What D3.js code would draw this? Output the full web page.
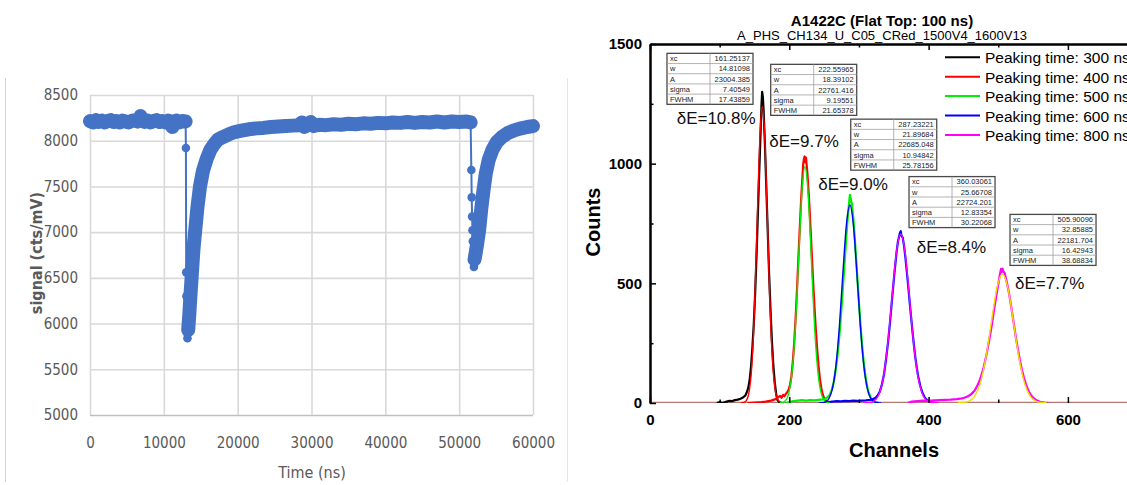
<!DOCTYPE html>
<html>
<head>
<meta charset="utf-8">
<script src="https://cdnjs.cloudflare.com/ajax/libs/d3/7.8.5/d3.min.js"></script>
<style>
	body { margin: 0; background: #fff; }
	svg { display: block; }
</style>
</head>
<body>
<div id="chart"></div>
<script>
// ---- left panel : preamp waveform (time ns, signal cts/mV) ----
var time_ticks = [0, 10000, 20000, 30000, 40000, 50000, 60000];
var signal_ticks = [5000, 5500, 6000, 6500, 7000, 7500, 8000, 8500];

var wave_flat = [[0,8215],[400,8200],[800,8225],[1200,8205],[1600,8220],[2000,8200],[2400,8215],[2800,8225],[3200,8205],[3600,8215],[4000,8200],[4400,8220],[4800,8210],[5200,8200],[5600,8215],[6000,8225],[6400,8210],[6700,8240],[6850,8270],[7000,8235],[7400,8205],[7800,8220],[8200,8200],[8600,8215],[9000,8225],[9400,8205],[9800,8215],[10200,8200],[10600,8220],[11000,8210],[11150,8150],[11300,8205],[11700,8220],[12100,8200],[12500,8215],[12950,8210]];
var wave_drop1 = [[12950,8210],[12990,7920],[13030,6560],[13060,6300],[13090,6010],[13130,5900],[13200,5840]];
var wave_rec1 = [[13300,5930],[13450,6100],[13600,6300],[13800,6550],[14000,6800],[14250,7020],[14550,7270],[14900,7500],[15300,7670],[15800,7800],[16300,7900],[16800,7960],[17300,8010],[18000,8040],[18800,8070],[19600,8095],[20500,8110],[21500,8125],[22500,8135],[23500,8140],[24500,8150],[25500,8155],[26500,8160],[27500,8165],[28300,8170],[28700,8200],[29000,8150],[29500,8175],[29900,8205],[30300,8160],[31000,8175],[32000,8170],[33000,8180],[34000,8175],[35000,8185],[36000,8180],[37000,8190],[38000,8185],[39000,8195],[40000,8190],[41000,8200],[42000,8195],[43000,8205],[44000,8195],[45000,8205],[46000,8200],[47000,8210],[48000,8200],[49000,8210],[50000,8205],[51000,8210],[51550,8200]];
var wave_drop2 = [[51550,8200],[51650,7680],[51700,7380],[51750,7170],[51800,7020],[51850,6900],[51950,6700],[52000,6620]];
var wave_rec2 = [[52080,6700],[52250,6780],[52450,6880],[52700,7020],[53000,7260],[53300,7460],[53600,7640],[54000,7790],[54500,7900],[55100,7985],[55800,8040],[56600,8085],[57500,8115],[58400,8135],[59200,8150],[60000,8160]];

// ---- right panel : pulse height spectra (channel, counts) ----
var channel_ticks = [0, 200, 400, 600];
var channel_minor = [100, 300, 500, 700];
var count_ticks = [0, 500, 1000, 1500];
var count_minor = [250, 750, 1250];

var legend_names = ["Peaking time: 300 ns", "Peaking time: 400 ns", "Peaking time: 500 ns", "Peaking time: 600 ns", "Peaking time: 800 ns"];

var spec_300 = [[96,0],[100,4],[104,0],[110,6],[114,9],[118,8],[122,12],[126,14],[130,18],[134,24],[137,32],[139,45],[141,62],[143,95],[145,150],[147,230],[149,330],[151,460],[153,620],[155,800],[157,980],[159,1150],[160,1240],[161,1300],[162,1280],[163,1230],[165,1080],[167,900],[169,720],[171,540],[173,390],[175,260],[177,160],[179,90],[181,40],[183,12],[186,2],[190,0]];
var spec_400 = [[140,0],[150,2],[160,4],[166,6],[170,8],[174,10],[178,14],[181,18],[184,24],[187,30],[189,22],[191,34],[193,28],[195,38],[197,45],[199,55],[201,75],[203,110],[205,170],[207,250],[209,350],[211,470],[213,600],[215,730],[217,850],[219,950],[220,1000],[221,1020],[222,1030],[223,1005],[224,1025],[226,960],[228,870],[230,760],[232,640],[234,520],[236,410],[238,310],[240,225],[242,155],[244,100],[246,62],[248,36],[250,20],[253,8],[257,2],[262,0]];
var spec_500 = [[196,0],[200,4],[206,8],[212,10],[218,12],[224,10],[230,12],[236,11],[242,13],[248,15],[252,18],[255,24],[258,34],[261,55],[264,90],[267,145],[270,220],[273,320],[276,440],[279,570],[282,700],[284,780],[286,840],[287,870],[288,855],[290,830],[292,770],[294,690],[296,600],[298,510],[300,420],[302,335],[304,260],[306,195],[308,140],[310,98],[312,66],[314,42],[317,22],[320,11],[324,4],[330,0]];
var spec_600 = [[250,0],[256,4],[262,6],[268,8],[274,7],[280,9],[286,8],[292,10],[298,9],[304,10],[310,11],[316,13],[320,16],[324,22],[327,32],[330,48],[333,78],[336,120],[339,185],[342,260],[345,350],[348,450],[351,545],[354,630],[356,675],[358,700],[359,712],[360,718],[361,700],[363,690],[365,650],[367,600],[369,540],[371,480],[373,415],[375,355],[377,295],[379,240],[381,190],[383,148],[385,112],[388,72],[391,44],[394,26],[397,14],[400,7],[404,3],[410,0]];
var spec_800 = [[370,0],[376,6],[384,8],[392,10],[400,9],[408,11],[416,12],[424,13],[432,14],[440,16],[446,18],[451,22],[455,26],[459,32],[463,42],[467,56],[471,78],[475,108],[479,148],[483,200],[487,262],[491,330],[494,390],[497,445],[500,495],[502,530],[503,545],[504,560],[505,548],[506,562],[507,550],[509,545],[511,520],[513,495],[516,450],[519,395],[522,338],[525,280],[528,228],[531,180],[534,138],[537,104],[540,76],[543,54],[546,37],[550,22],[555,11],[560,5],[566,2],[572,0]];

// gaussian fits
var fit_1 = [[130,0],[134,2],[138,9],[142,42],[146,149],[150,391],[154,767],[158,1125],[161,1239],[164,1156],[168,818],[172,432],[176,170],[180,50],[184,11],[188,2],[192,0]];
var fit_2 = [[186.5,0],[190.5,2],[194.5,10],[198.5,33],[202.5,93],[206.5,217],[210.5,421],[214.5,676],[218.5,898],[222.5,987],[226.5,898],[230.5,676],[234.5,421],[238.5,217],[242.5,93],[246.5,33],[250.5,10],[254.5,2],[258.5,0]];
var fit_3 = [[242,0],[247,1],[252,5],[257,19],[262,61],[267,156],[272,324],[277,545],[282,745],[287,827],[292,745],[297,545],[302,324],[307,156],[312,61],[317,19],[322,5],[327,1],[332,0]];
var fit_4 = [[306,0],[312,1],[318,3],[324,14],[330,46],[336,123],[342,264],[348,456],[354,633],[360,706],[366,633],[372,456],[378,264],[384,123],[390,46],[396,14],[402,3],[408,1],[414,0]];
var fit_5 = [[442,0],[450,2],[458,8],[466,28],[474,81],[482,185],[490,335],[498,479],[506,539],[514,479],[522,335],[530,185],[538,81],[546,28],[554,8],[562,2],[570,0]];

var fit_labels = ["xc", "w", "A", "sigma", "FWHM"];
var fit_params = [
	["161.25137", "14.81098", "23004.385", "7.40549", "17.43859"],
	["222.55965", "18.39102", "22761.416", "9.19551", "21.65378"],
	["287.23221", "21.89684", "22685.048", "10.94842", "25.78156"],
	["360.03061", "25.66708", "22724.201", "12.83354", "30.22068"],
	["505.90096", "32.85885", "22181.704", "16.42943", "38.68834"]
];
var resolution = ["\u03b4E=10.8%", "\u03b4E=9.7%", "\u03b4E=9.0%", "\u03b4E=8.4%", "\u03b4E=7.7%"];

// where the boxes and labels sit, in channel / counts
var table_at = [[24.4, 1461], [173.3, 1415], [288.2, 1186], [371.9, 946], [516.9, 788]];
var label_at = [[38.3, 1166], [171.3, 1071], [241.6, 890], [382.9, 628], [524, 476]];

var spec_colors = ["#000000", "#ff0000", "#00ee00", "#0000ff", "#ff00ff"];
var fit_colors = ["#ff0000", "#00ee00", "#0000ff", "#ff00ff", "#f2dc00"];

window.onload = function() {
	main();
};

function main() {
	var svg = d3.select("#chart")
		.append("svg")
		.attr("width", 1127)
		.attr("height", 485);
	draw_waveform(svg);
	draw_spectra(svg);
}

function draw_waveform(svg) {
	var x = d3.scaleLinear().domain([0, 60000]).range([90, 533]);
	var y = d3.scaleLinear().domain([5000, 8500]).range([415, 95]);
	var font = "'Liberation Sans Narrow','DejaVu Sans Condensed','Liberation Sans',sans-serif";
	var blue = "#4472c4";

	// edges of the pasted screenshot
	svg.append("line")
		.attr("x1", 5.5).attr("x2", 5.5)
		.attr("y1", 78).attr("y2", 482)
		.attr("stroke", "#d4d4d4");
	svg.append("line")
		.attr("x1", 567.5).attr("x2", 567.5)
		.attr("y1", 78).attr("y2", 482)
		.attr("stroke", "#e4e4e4");

	var gy = svg.append("g")
		.attr("transform", "translate(90,0)")
		.call(d3.axisLeft(y).tickValues(signal_ticks).tickSize(-443).tickPadding(12).tickFormat(d3.format("d")));
	gy.select(".domain").remove();
	gy.selectAll(".tick line")
		.attr("stroke", function(d) { return d == 5000 ? "#bfbfbf" : "#d9d9d9"; })
		.attr("stroke-width", 1.6);
	gy.selectAll(".tick text")
		.attr("fill", "#595959")
		.style("font-family", font)
		.style("font-size", "15px");

	var gx = svg.append("g")
		.attr("transform", "translate(0,415)")
		.call(d3.axisBottom(x).tickValues(time_ticks).tickSize(-320).tickPadding(22).tickFormat(d3.format("d")));
	gx.select(".domain").remove();
	gx.selectAll(".tick line")
		.attr("stroke", "#d9d9d9")
		.attr("stroke-width", 1.6);
	gx.selectAll(".tick text")
		.attr("fill", "#595959")
		.style("font-family", font)
		.style("font-size", "15px");

	svg.append("text")
		.attr("x", 312)
		.attr("y", 478)
		.attr("text-anchor", "middle")
		.attr("fill", "#595959")
		.style("font-family", font)
		.style("font-size", "16px")
		.text("Time (ns)");

	svg.append("text")
		.attr("transform", "translate(42,253) rotate(-90)")
		.attr("text-anchor", "middle")
		.attr("fill", "#595959")
		.style("font-family", font)
		.style("font-size", "16px")
		.style("font-weight", "bold")
		.text("signal (cts/mV)");

	var line = d3.line()
		.x(function(d) { return x(d[0]); })
		.y(function(d) { return y(d[1]); });

	// dense parts look like a thick band of overlapping markers
	[wave_flat, wave_rec1, wave_rec2].forEach(function(seg) {
		svg.append("path")
			.datum(seg)
			.attr("d", line)
			.attr("fill", "none")
			.attr("stroke", blue)
			.attr("stroke-width", 14)
			.attr("stroke-linejoin", "round")
			.attr("stroke-linecap", "round");
	});

	// sparse falling edges: thin line with round markers
	[wave_drop1, wave_drop2].forEach(function(seg) {
		svg.append("path")
			.datum(seg)
			.attr("d", line)
			.attr("fill", "none")
			.attr("stroke", blue)
			.attr("stroke-width", 2);
		svg.append("g")
			.selectAll("circle")
			.data(seg)
			.enter()
			.append("circle")
			.attr("cx", function(d) { return x(d[0]); })
			.attr("cy", function(d) { return y(d[1]); })
			.attr("r", 4.3)
			.attr("fill", blue);
	});
}

function draw_spectra(svg) {
	var x = d3.scaleLinear().domain([0, 700]).range([650, 650 + 700 * 0.6965]);
	var y = d3.scaleLinear().domain([0, 1500]).range([403, 44]);
	var font = "'Liberation Sans',Arial,sans-serif";

	svg.append("text")
		.attr("x", 882)
		.attr("y", 26)
		.attr("text-anchor", "middle")
		.style("font-family", font)
		.style("font-size", "15px")
		.style("font-weight", "bold")
		.text("A1422C (Flat Top: 100 ns)");

	svg.append("text")
		.attr("x", 882)
		.attr("y", 39.5)
		.attr("text-anchor", "middle")
		.style("font-family", font)
		.style("font-size", "13px")
		.text("A_PHS_CH134_U_C05_CRed_1500V4_1600V13");

	svg.append("defs")
		.append("clipPath")
		.attr("id", "plot_clip")
		.append("rect")
		.attr("x", 650)
		.attr("y", 44)
		.attr("width", 490)
		.attr("height", 359);

	var plot = svg.append("g").attr("clip-path", "url(#plot_clip)");

	var line = d3.line()
		.x(function(d) { return x(d[0]); })
		.y(function(d) { return y(d[1]); });
	var smooth = d3.line()
		.curve(d3.curveMonotoneX)
		.x(function(d) { return x(d[0]); })
		.y(function(d) { return y(d[1]); });

	var specs = [spec_300, spec_400, spec_500, spec_600, spec_800];
	var fits = [fit_1, fit_2, fit_3, fit_4, fit_5];

	// zero line where all the fits overlap
	plot.append("line")
		.attr("x1", x(0)).attr("x2", x(700))
		.attr("y1", y(0)).attr("y2", y(0))
		.attr("stroke", "#b07a72")
		.attr("stroke-width", 2.5);

	specs.forEach(function(s, i) {
		plot.append("path")
			.datum(s)
			.attr("d", line)
			.attr("fill", "none")
			.attr("stroke", spec_colors[i])
			.attr("stroke-width", 2.2)
			.attr("stroke-linejoin", "round");
	});
	fits.forEach(function(f, i) {
		plot.append("path")
			.datum(f)
			.attr("d", smooth)
			.attr("fill", "none")
			.attr("stroke", fit_colors[i])
			.attr("stroke-width", 1.4);
	});

	// axes: ticks point into the frame
	var fmt = d3.format("d");
	var ax = [
		{ g: d3.axisLeft(y).tickValues(count_ticks).tickSize(-6).tickPadding(8).tickFormat(fmt), t: "translate(650,0)" },
		{ g: d3.axisLeft(y).tickValues(count_minor).tickSize(-3.5).tickFormat(""), t: "translate(650,0)" },
		{ g: d3.axisBottom(x).tickValues(channel_ticks).tickSize(-6).tickPadding(11).tickFormat(fmt), t: "translate(0,403)" },
		{ g: d3.axisBottom(x).tickValues(channel_minor).tickSize(-3.5).tickFormat(""), t: "translate(0,403)" },
		{ g: d3.axisTop(x).tickValues(channel_ticks).tickSize(-6).tickFormat(""), t: "translate(0,44)" },
		{ g: d3.axisTop(x).tickValues(channel_minor).tickSize(-3.5).tickFormat(""), t: "translate(0,44)" }
	];
	ax.forEach(function(a, i) {
		var g = svg.append("g")
			.attr("transform", a.t)
			.call(a.g.tickSizeOuter(0));
		g.select(".domain")
			.attr("stroke", "#000")
			.attr("stroke-width", i == 2 || i == 3 ? 0 : 2);
		g.selectAll(".tick line")
			.attr("stroke", "#000")
			.attr("stroke-width", 1.5);
		g.selectAll(".tick text")
			.attr("fill", "#000")
			.style("font-family", font)
			.style("font-size", "15px")
			.style("font-weight", "bold");
	});

	svg.append("text")
		.attr("transform", "translate(600,222) rotate(-90)")
		.attr("text-anchor", "middle")
		.style("font-family", font)
		.style("font-size", "20px")
		.style("font-weight", "bold")
		.text("Counts");

	svg.append("text")
		.attr("x", 894)
		.attr("y", 457)
		.attr("text-anchor", "middle")
		.style("font-family", font)
		.style("font-size", "20px")
		.style("font-weight", "bold")
		.text("Channels");

	// legend (runs off the right edge, as in the original screenshot)
	var leg = svg.append("g");
	legend_names.forEach(function(name, i) {
		var ly = 57.3 + i * 19.4;
		leg.append("line")
			.attr("x1", 945).attr("x2", 980)
			.attr("y1", ly).attr("y2", ly)
			.attr("stroke", spec_colors[i])
			.attr("stroke-width", 2);
		leg.append("text")
			.attr("x", 985)
			.attr("y", ly + 6)
			.style("font-family", font)
			.style("font-size", "15.5px")
			.text(name);
	});

	// fit result boxes
	var row_h = 10.2, box_w = 86, col_w = 43;
	fit_params.forEach(function(vals, i) {
		var g = svg.append("g")
			.attr("transform", "translate(" + x(table_at[i][0]) + "," + y(table_at[i][1]) + ")");
		g.append("rect")
			.attr("width", box_w)
			.attr("height", row_h * 5)
			.attr("fill", "#fff")
			.attr("stroke", "#4a4a4a")
			.attr("stroke-width", 1.3);
		for (var k = 1; k < 5; k++) {
			g.append("line")
				.attr("x1", 0).attr("x2", box_w)
				.attr("y1", k * row_h).attr("y2", k * row_h)
				.attr("stroke", "#a0a0a0")
				.attr("stroke-width", 0.8);
		}
		g.append("line")
			.attr("x1", col_w).attr("x2", col_w)
			.attr("y1", 0).attr("y2", row_h * 5)
			.attr("stroke", "#a0a0a0")
			.attr("stroke-width", 0.8);
		fit_labels.forEach(function(lab, k) {
			g.append("text")
				.attr("x", 3)
				.attr("y", k * row_h + 7.8)
				.style("font-family", font)
				.style("font-size", "7.5px")
				.attr("fill", "#222")
				.text(lab);
			g.append("text")
				.attr("x", box_w - 3)
				.attr("y", k * row_h + 7.8)
				.attr("text-anchor", "end")
				.style("font-family", font)
				.style("font-size", "7.5px")
				.attr("fill", "#222")
				.text(vals[k]);
		});
	});

	resolution.forEach(function(r, i) {
		svg.append("text")
			.attr("x", x(label_at[i][0]))
			.attr("y", y(label_at[i][1]))
			.style("font-family", font)
			.style("font-size", "17px")
			.attr("fill", "#111")
			.text(r);
	});
}
</script>
</body>
</html>
